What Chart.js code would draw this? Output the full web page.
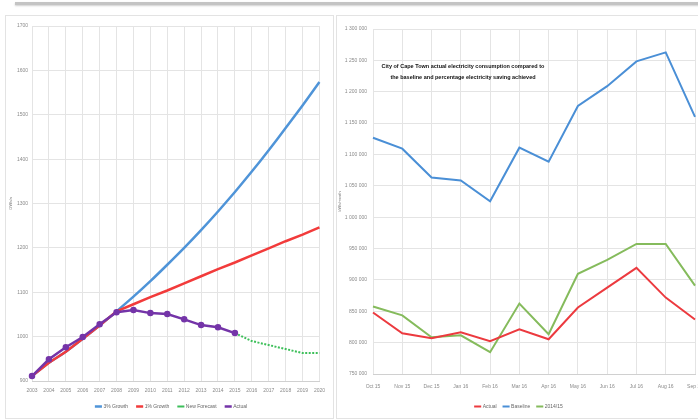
<!DOCTYPE html>
<html><head><meta charset="utf-8">
<script src="https://cdn.jsdelivr.net/npm/chart.js@4"></script>
<style>
html,body{margin:0;padding:0;background:#fff;width:698px;height:420px;overflow:hidden;position:relative;font-family:"Liberation Sans",Arial,sans-serif}
#bar{position:absolute;left:15px;top:2px;width:700px;height:3px;background:#c4c4c4;box-shadow:0 1px 2px #d0d0d0}
.card{position:absolute;background:#fff;border:1px solid #e3e3e3;box-sizing:border-box}
#card1{left:5px;top:15px;width:329px;height:404px}
#card2{left:336px;top:15px;width:380px;height:404px}
#cv1{position:absolute;left:6px;top:16px}
#cv2{position:absolute;left:337px;top:16px}
#ttl{position:absolute;left:363px;top:61px;width:200px;text-align:center;font-weight:bold;font-size:5.5px;line-height:11px;color:#111}
</style></head><body>
<div id="bar"></div>
<div class="card" id="card1"></div>
<div class="card" id="card2"></div>
<canvas id="cv1" width="326" height="403"></canvas>
<canvas id="cv2" width="380" height="403"></canvas>
<div id="ttl">City of Cape Town actual electricity consumption compared to<br>the baseline and percentage electricity saving achieved</div>
<script>
// ---- left chart data ----
const years = ["2003","2004","2005","2006","2007","2008","2009","2010","2011","2012","2013","2014","2015","2016","2017","2018","2019","2020"];
const highGrowth = [911,941,966,995,1025,1057,1090,1125,1162,1200,1240,1282,1326,1372,1420,1470,1521,1574];
const lowGrowth  = [911,941,966,995,1025,1057,1073,1089,1104,1120,1136,1152,1167,1183,1199,1215,1230,1246];
const newForecast = [null,null,null,null,null,null,null,null,null,null,null,null,1008,990,981,972,963,963];
const actual = [911,949,976,999,1028,1055,1060,1053,1051,1039,1026,1021,1008,null,null,null,null,null];
const leftNames = ["3% Growth","1% Growth","New Forecast","Actual"];

// ---- right chart data ----
const months = ["Oct 15","Nov 15","Dec 15","Jan 16","Feb 16","Mar 16","Apr 16","May 16","Jun 16","Jul 16","Aug 16","Sep 16"];
const actualKwh   = [848100,814900,807000,816500,802200,821200,805400,856000,887700,919300,871800,837000];
const baselineKwh = [1126600,1109200,1063300,1058500,1025300,1110800,1088600,1177200,1208900,1248400,1262700,1159800];
const prevYearKwh = [857600,843400,808500,811700,784800,862300,813300,909800,932000,957300,957300,890800];
const rightNames = ["Actual","Baseline","2014/15"];

const grid = '#e4e4e4', tickCol = '#8a8a8a';
const fnt = {family:'"Liberation Sans", Arial, sans-serif', size:5};
const bySet = (a,b)=>a.datasetIndex-b.datasetIndex;
const shift = dx => ({id:'shiftLegend', afterLayout(c){ if(c.legend){ c.legend.left+=dx; c.legend.right+=dx; } }});

new Chart(document.getElementById('cv1'), {
  type:'line',
  data:{labels:years, datasets:[
    {label:leftNames[0], data:highGrowth, borderColor:'#4f94d8', borderWidth:2.5, pointRadius:0, order:4, tension:0.2},
    {label:leftNames[1], data:lowGrowth, borderColor:'#f23b3b', borderWidth:2.5, pointRadius:0, order:3},
    {label:leftNames[2], data:newForecast, borderColor:'#3dbf5a', borderWidth:2, borderDash:[2,1.5], pointRadius:0, order:2},
    {label:leftNames[3], data:actual, borderColor:'#7434a8', backgroundColor:'#7434a8', borderWidth:2.5, pointRadius:2, pointStyle:'circle', order:1}
  ]},
  options:{
    responsive:false, animation:false, devicePixelRatio:1,
    layout:{padding:{left:2,right:9,top:10,bottom:0}},
    plugins:{
      legend:{position:'bottom', labels:{usePointStyle:true, pointStyle:'line', boxWidth:13, padding:9, font:fnt, color:'#666', sort:bySet}},
      tooltip:{enabled:false}
    },
    scales:{
      x:{grid:{color:grid, drawTicks:false}, border:{color:'#d0d0d0'}, ticks:{font:fnt, color:tickCol, padding:7, maxRotation:0, autoSkip:false},
         afterFit:s=>{s.height=14;}},
      y:{min:900, max:1700, grid:{color:grid, drawTicks:false}, border:{display:false},
         ticks:{stepSize:100, font:fnt, color:tickCol, padding:4, callback:v=>String(v)},
         title:{display:true, text:'GWh/a', font:{...fnt, size:4}, color:'#777', padding:0},
         afterFit:s=>{s.width=24;}}
    }
  },
  plugins:[shift(6)]
});

const fmt = v => v.toString().replace(/\B(?=(\d{3})+(?!\d))/g,' ');
new Chart(document.getElementById('cv2'), {
  type:'line',
  data:{labels:months, datasets:[
    {label:rightNames[0], data:actualKwh, borderColor:'#ec3a3f', borderWidth:2, pointRadius:0, order:1},
    {label:rightNames[1], data:baselineKwh, borderColor:'#4a8fd6', borderWidth:2, pointRadius:0, order:2},
    {label:rightNames[2], data:prevYearKwh, borderColor:'#85bb5c', borderWidth:2, pointRadius:0, order:3}
  ]},
  options:{
    responsive:false, animation:false, devicePixelRatio:1,
    layout:{padding:{left:0,right:22,top:13,bottom:0}},
    plugins:{
      legend:{position:'bottom', labels:{usePointStyle:true, pointStyle:'line', boxWidth:11, padding:7, font:fnt, color:'#666', sort:bySet}},
      tooltip:{enabled:false}
    },
    scales:{
      x:{grid:{color:grid, drawTicks:false}, border:{color:'#d0d0d0'}, ticks:{font:fnt, color:tickCol, padding:10, maxRotation:0, autoSkip:false},
         afterFit:s=>{s.height=23;}},
      y:{min:750000, max:1300000, grid:{color:grid, drawTicks:false}, border:{display:false},
         ticks:{stepSize:50000, font:fnt, color:tickCol, padding:6, callback:v=>fmt(v)},
         title:{display:true, text:'kWh/month', font:{...fnt, size:4}, color:'#777', padding:0},
         afterFit:s=>{s.width=36;}}
    }
  },
  plugins:[shift(3)]
});
</script>
</body></html>
